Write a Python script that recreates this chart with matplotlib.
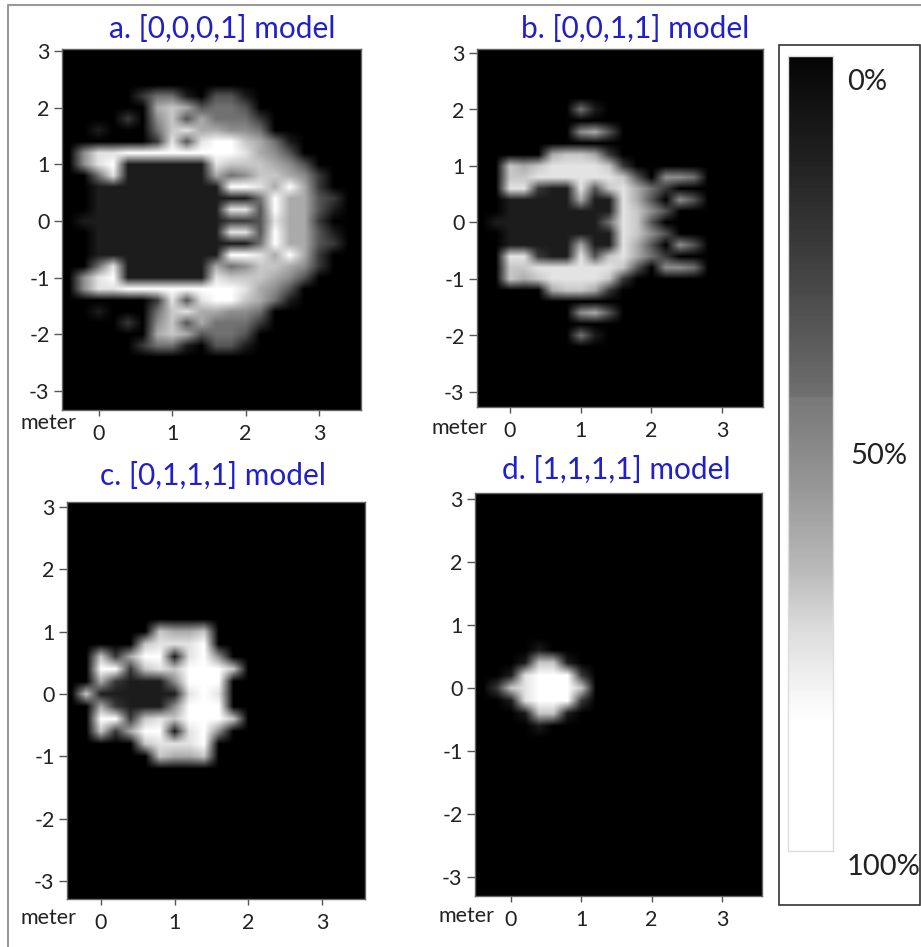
# Four model coverage maps (gray scale, 0-100 %) with a shared scale box.
# Each map is symmetric about y = 0, so only y >= 0 is listed, rows go upward.
# Row strings: one digit per cell (0 black .. 9 white), x = -0.4 .. 3.4 by 0.2.

import matplotlib
matplotlib.use("Agg")
import matplotlib.pyplot as plt
from matplotlib.patches import Rectangle
import numpy as np

plt.rcParams['font.family'] = ['Lato', 'DejaVu Sans']
plt.rcParams['axes.unicode_minus'] = False

W, H = 921, 947
BLUE = "#2020c8"
TEXT = "#222222"

ROWS_A = [
    "01111111111223866200",
    "00111111111883966310",
    "00111111111114966320",
    "00111111111998696200",
    "00481111116457765200",
    "05891111118777653000",
    "05889999999986530000",
    "00000028389976410000",
    "00100047866554000000",
    "00002057364442000000",
    "00000067634430000000",
    "00000244103310000000",
]
ROWS_B = [
    "01111111148730000000",
    "00111111118753000000",
    "00111116118630530000",
    "00882118378642000000",
    "00778888887305540000",
    "00767888872000000000",
    "00000677620000000000",
    "00000000000000000000",
    "00000005630000000000",
    "00000000000000000000",
    "00000004100000000000",
]
ROWS_C = [
    "07111111898000000000",
    "00621115999000000000",
    "00992787999700000000",
    "00726991895000000000",
    "00000788890000000000",
    "00000076670000000000",
]
ROWS_D = [
    "02789997000000000000",
    "00189992000000000000",
    "00017710000000000000",
    "00001000000000000000",
]

TITLES = ["a. [0,0,0,1] model", "b. [0,0,1,1] model",
          "c. [0,1,1,1] model", "d. [1,1,1,1] model"]
X_TICKS = [0, 1, 2, 3]
Y_TICKS = [-3, -2, -1, 0, 1, 2, 3]
SCALE_LABELS = ["0%", "50%", "100%"]
# gray scale read down the bar: fraction of the bar height, gray level
SCALE_POS = [0.0, 0.12, 0.25, 0.38, 0.43, 0.431, 0.55, 0.65, 0.72, 0.80, 0.84, 1.0]
SCALE_GRAY = [0.02, 0.12, 0.24, 0.38, 0.44, 0.47, 0.60, 0.73, 0.86, 0.96, 1.0, 1.0]

# px boxes (left, right, top, bottom), px of x=0, x=3, y=3, y=-3, title and "meter" anchors
PANELS = [
    (ROWS_A, (62, 361, 49, 410), (99, 319, 51, 391), (222, 29), (20, 423)),
    (ROWS_B, (477, 763, 49, 407), (510, 722, 53, 392), (635, 29), (431, 428)),
    (ROWS_C, (67, 365, 502, 899), (101, 322, 507, 881), (213, 476), (20, 918)),
    (ROWS_D, (475, 762, 493, 896), (511, 722, 499, 877), (616, 470), (438, 916)),
]


def to_grid(rows):
    """Rows y>=0 -> full 33x20 grid, top row first."""
    top = [[int(c) for c in r] for r in rows]
    top += [[0] * 20] * (17 - len(top))
    top = np.array(top, dtype=float)
    return np.vstack([top[:0:-1], top])


fig = plt.figure(figsize=(W / 100, H / 100), dpi=100)
bg = fig.add_axes([0, 0, 1, 1])
bg.set_xlim(0, W)
bg.set_ylim(H, 0)
bg.axis('off')
bg.plot([8, 8, W], [H, 5, 5], color="#999999", lw=1.5)

for (rows, box, refs, title_xy, meter_xy), title in zip(PANELS, TITLES):
    left, right, top, bottom = box
    x0, x3, y3, ym3 = refs
    ax = fig.add_axes([left / W, 1 - bottom / H, (right - left) / W, (bottom - top) / H])
    ax.set_facecolor("black")
    ax.imshow(to_grid(rows), cmap="gray", vmin=0, vmax=9, aspect='auto',
              interpolation='bilinear', extent=[-0.5, 3.5, -3.3, 3.3])
    sx = (x3 - x0) / 3
    sy = (ym3 - y3) / 6
    yc = (ym3 + y3) / 2
    ax.set_xlim((left - x0) / sx, (right - x0) / sx)
    ax.set_ylim((yc - bottom) / sy, (yc - top) / sy)
    ax.set_xticks(X_TICKS)
    ax.set_yticks(Y_TICKS)
    ax.tick_params(axis='x', length=4, width=1, color="#555555", labelsize=15.5,
                   labelcolor=TEXT, pad=6)
    ax.tick_params(axis='y', length=6, width=1, color="#555555", labelsize=15.5,
                   labelcolor=TEXT, pad=3)
    for s in ax.spines.values():
        s.set_color("#666666")
        s.set_linewidth(1)
    bg.text(title_xy[0], title_xy[1], title, color=BLUE, fontsize=21.5,
            ha='center', va='center')
    bg.text(meter_xy[0], meter_xy[1], "meter", color=TEXT, fontsize=15.5,
            ha='left', va='center')

# scale box on the right
bg.add_patch(Rectangle((779, 45), 141, 860, fc="white", ec="#333333", lw=1.2))
cax = fig.add_axes([788 / W, 1 - 851 / H, 45 / W, 795 / H])
ramp = np.interp(np.linspace(0, 1, 400), SCALE_POS, SCALE_GRAY).reshape(-1, 1)
cax.imshow(ramp, cmap="gray", vmin=0, vmax=1, aspect='auto', interpolation='nearest')
cax.set_xticks([])
cax.set_yticks([])
for s in cax.spines.values():
    s.set_color("#dddddd")
    s.set_linewidth(1)
for label, (x, y) in zip(SCALE_LABELS, [(847, 82), (850, 456), (847, 867)]):
    bg.text(x, y, label, color=TEXT, fontsize=21, ha='left', va='center')

fig.savefig("out.png", dpi=100)
